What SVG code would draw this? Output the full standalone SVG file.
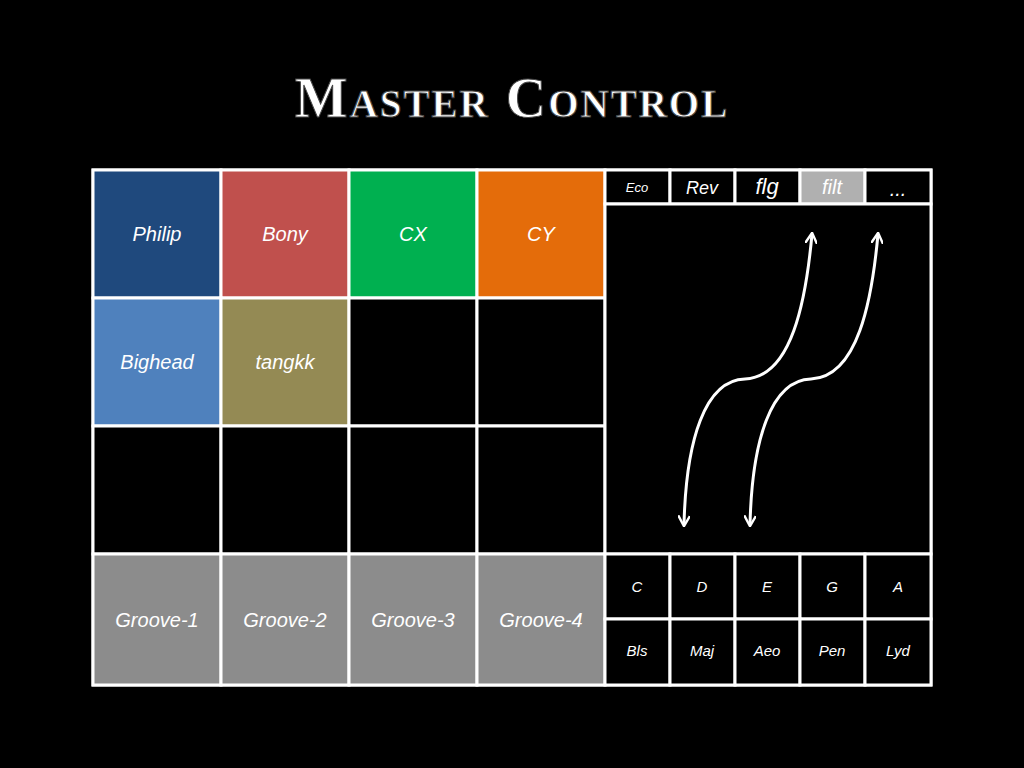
<svg xmlns="http://www.w3.org/2000/svg" width="1024" height="768" viewBox="0 0 1024 768">
<style>
.c{stroke:#fff;stroke-width:3}
.t{font-family:"Liberation Sans",sans-serif;font-style:italic;fill:#fff;text-anchor:middle}
.l{font-size:20px}
.s{font-size:15px}
.a{fill:none;stroke:#fff;stroke-width:3;marker-start:url(#h);marker-end:url(#h)}
</style>
<defs><marker id="h" viewBox="0 0 10 10" refX="8" refY="5" markerWidth="4" markerHeight="4" orient="auto-start-reverse"><path d="M0,0 L9,5 L0,10" fill="none" stroke="#fff" stroke-width="2"/></marker></defs>
<rect width="1024" height="768" fill="#000"/>
<text x="512" y="117" font-family="Liberation Serif,serif" font-weight="bold" font-size="56" fill="#fff" stroke="#444" stroke-width="1" text-anchor="middle" font-variant="small-caps" letter-spacing="2">Master Control</text>
<rect x="93" y="170" width="838" height="515" fill="#000" class="c"/>
<g id="philip"><rect x="93" y="170" width="128" height="128" fill="#1f497d" class="c"/><text x="157" y="241" class="t l">Philip</text></g>
<g id="bony"><rect x="221" y="170" width="128" height="128" fill="#c0504d" class="c"/><text x="285" y="241" class="t l">Bony</text></g>
<g id="cx"><rect x="349" y="170" width="128" height="128" fill="#00b050" class="c"/><text x="413" y="241" class="t l">CX</text></g>
<g id="cy"><rect x="477" y="170" width="128" height="128" fill="#e46c0a" class="c"/><text x="541" y="241" class="t l">CY</text></g>
<g id="bighead"><rect x="93" y="298" width="128" height="128" fill="#4f81bd" class="c"/><text x="157" y="369" class="t l">Bighead</text></g>
<g id="tangkk"><rect x="221" y="298" width="128" height="128" fill="#948a54" class="c"/><text x="285" y="369" class="t l">tangkk</text></g>
<g id="empty"><rect x="349" y="298" width="128" height="128" class="c"/><rect x="477" y="298" width="128" height="128" class="c"/><rect x="93" y="426" width="128" height="128" class="c"/><rect x="221" y="426" width="128" height="128" class="c"/><rect x="349" y="426" width="128" height="128" class="c"/><rect x="477" y="426" width="128" height="128" class="c"/></g>
<g id="g1"><rect x="93" y="554" width="128" height="131" fill="#8c8c8c" class="c"/><text x="157" y="627" class="t l">Groove-1</text></g>
<g id="g2"><rect x="221" y="554" width="128" height="131" fill="#8c8c8c" class="c"/><text x="285" y="627" class="t l">Groove-2</text></g>
<g id="g3"><rect x="349" y="554" width="128" height="131" fill="#8c8c8c" class="c"/><text x="413" y="627" class="t l">Groove-3</text></g>
<g id="g4"><rect x="477" y="554" width="128" height="131" fill="#8c8c8c" class="c"/><text x="541" y="627" class="t l">Groove-4</text></g>
<g id="tabs">
<rect x="605" y="170" width="65" height="34" class="c"/><text x="637" y="192" class="t" font-size="13">Eco</text>
<rect x="670" y="170" width="65" height="34" class="c"/><text x="702" y="194" class="t" font-size="18">Rev</text>
<rect x="735" y="170" width="65" height="34" class="c"/><text x="767" y="194" class="t" font-size="22">flg</text>
<rect x="800" y="170" width="65" height="34" fill="#b0b0b0" class="c"/><text x="832" y="194" class="t" font-size="20">filt</text>
<rect x="865" y="170" width="66" height="34" class="c"/><text x="898" y="196" class="t" font-size="20">...</text>
</g>
<g id="pad"><rect x="605" y="204" width="326" height="350" class="c"/></g>
<g id="keys">
<rect x="605" y="554" width="65" height="65" class="c"/><text x="637" y="592" class="t s">C</text>
<rect x="670" y="554" width="65" height="65" class="c"/><text x="702" y="592" class="t s">D</text>
<rect x="735" y="554" width="65" height="65" class="c"/><text x="767" y="592" class="t s">E</text>
<rect x="800" y="554" width="65" height="65" class="c"/><text x="832" y="592" class="t s">G</text>
<rect x="865" y="554" width="66" height="65" class="c"/><text x="898" y="592" class="t s">A</text>
<rect x="605" y="619" width="65" height="66" class="c"/><text x="637" y="656" class="t s">Bls</text>
<rect x="670" y="619" width="65" height="66" class="c"/><text x="702" y="656" class="t s">Maj</text>
<rect x="735" y="619" width="65" height="66" class="c"/><text x="767" y="656" class="t s">Aeo</text>
<rect x="800" y="619" width="65" height="66" class="c"/><text x="832" y="656" class="t s">Pen</text>
<rect x="865" y="619" width="66" height="66" class="c"/><text x="898" y="656" class="t s">Lyd</text>
</g>
<g id="connectors">
<path class="a" d="M684,525 C686,440 705,380 745,379 C792,377 806,300 812,234"/>
<path class="a" d="M750,525 C752,440 771,380 811,379 C858,377 872,300 878,234"/>
</g>
</svg>
